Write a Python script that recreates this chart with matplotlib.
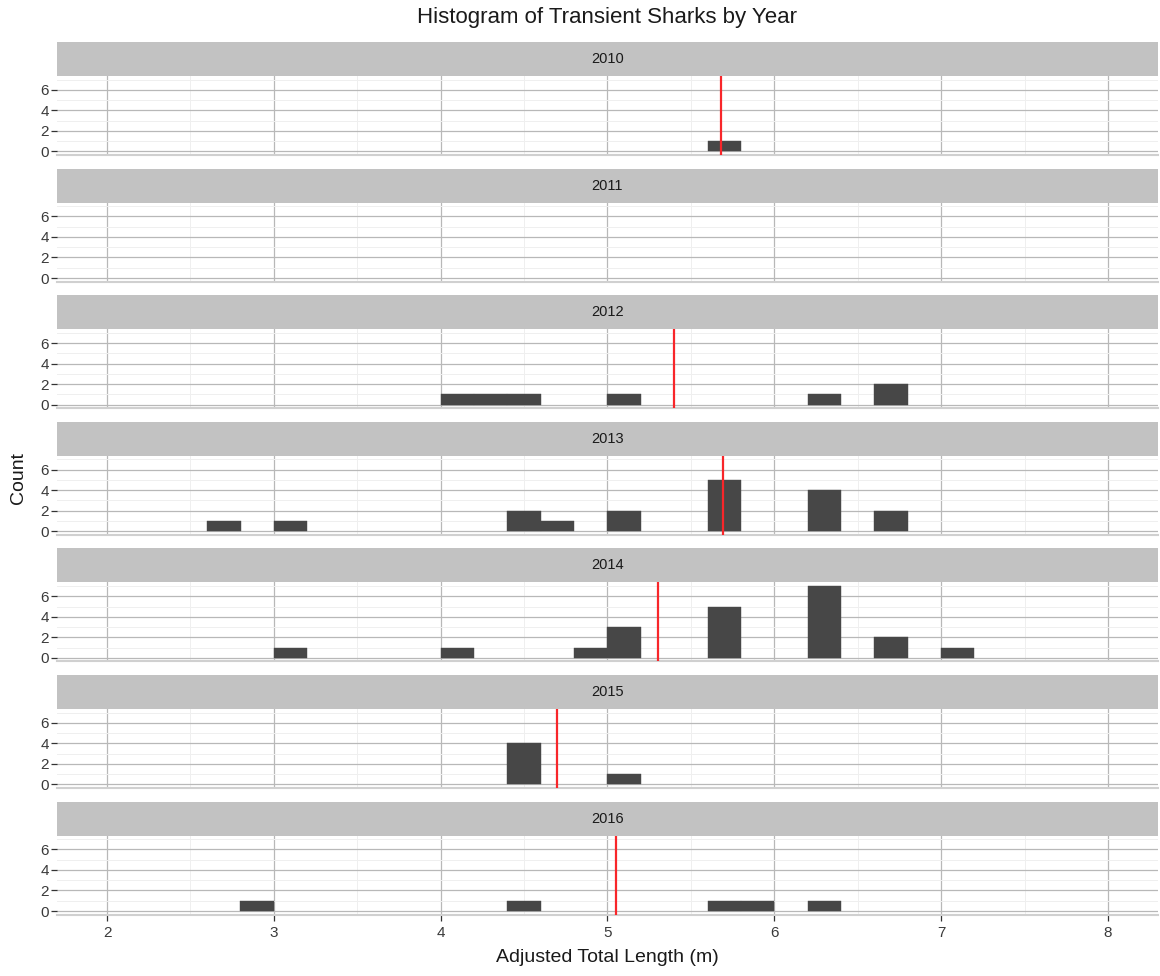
import matplotlib
matplotlib.use("Agg")
import matplotlib.pyplot as plt
from matplotlib.ticker import MultipleLocator

plt.rcParams["font.family"] = ["Liberation Sans", "DejaVu Sans"]

# ── dados: bordas esquerdas das classes (largura 0.2 m) e contagens por ano ──
YEARS = [2010, 2011, 2012, 2013, 2014, 2015, 2016]
BIN_WIDTH = 0.2

LEFT_2010 = [5.6]
COUNT_2010 = [1]
LEFT_2011 = []
COUNT_2011 = []
LEFT_2012 = [4.0, 4.2, 4.4, 5.0, 6.2, 6.6]
COUNT_2012 = [1, 1, 1, 1, 1, 2]
LEFT_2013 = [2.6, 3.0, 4.4, 4.6, 5.0, 5.6, 6.2, 6.6]
COUNT_2013 = [1, 1, 2, 1, 2, 5, 4, 2]
LEFT_2014 = [3.0, 4.0, 4.8, 5.0, 5.6, 6.2, 6.6, 7.0]
COUNT_2014 = [1, 1, 1, 3, 5, 7, 2, 1]
LEFT_2015 = [4.4, 5.0]
COUNT_2015 = [4, 1]
LEFT_2016 = [2.8, 4.4, 5.6, 5.8, 6.2]
COUNT_2016 = [1, 1, 1, 1, 1]

LEFTS = [LEFT_2010, LEFT_2011, LEFT_2012, LEFT_2013, LEFT_2014, LEFT_2015, LEFT_2016]
COUNTS = [COUNT_2010, COUNT_2011, COUNT_2012, COUNT_2013, COUNT_2014, COUNT_2015, COUNT_2016]

# média anual (linha vermelha); 2011 sem dados
MEANS = [5.68, None, 5.40, 5.69, 5.30, 4.70, 5.05]

X_TICKS = [2, 3, 4, 5, 6, 7, 8]
Y_TICKS = [0, 2, 4, 6]

# ── layout em pixels ──
W, H = 1160, 976
fig = plt.figure(figsize=(W / 100, H / 100), dpi=100)

LEFT_PX, RIGHT_PX = 57, 1158
TOP0, STEP = 42, 126.6
STRIP_H, PANEL_H = 34, 79

BAR_COLOR = "#474747"
STRIP_COLOR = "#C2C2C2"
GRID_MAJOR = "#B8B8B8"
GRID_MINOR = "#EFEFEF"
TEXT_COLOR = "#3A3A3A"


def fx(px):
    return px / W


def fy(px):
    return 1 - px / H


for i, year in enumerate(YEARS):
    top = TOP0 + i * STEP
    # faixa cinza com o ano
    sax = fig.add_axes([fx(LEFT_PX), fy(top + STRIP_H), fx(RIGHT_PX - LEFT_PX), STRIP_H / H])
    sax.set_facecolor(STRIP_COLOR)
    sax.set_xticks([])
    sax.set_yticks([])
    for sp in sax.spines.values():
        sp.set_visible(False)
    sax.text(0.5, 0.5, str(year), ha="center", va="center", fontsize=10.5,
             color="#1A1A1A", transform=sax.transAxes)

    ax = fig.add_axes([fx(LEFT_PX), fy(top + STRIP_H + PANEL_H),
                       fx(RIGHT_PX - LEFT_PX), PANEL_H / H])
    ax.set_facecolor("white")
    ax.set_xlim(1.7, 8.3)
    ax.set_ylim(-0.35, 7.35)
    ax.set_xticks(X_TICKS)
    ax.set_yticks(Y_TICKS)
    ax.xaxis.set_minor_locator(MultipleLocator(0.5))
    ax.yaxis.set_minor_locator(MultipleLocator(1))
    ax.grid(True, which="major", color=GRID_MAJOR, lw=0.9, zorder=0)
    ax.grid(True, which="minor", color=GRID_MINOR, lw=0.7, zorder=0)
    ax.set_axisbelow(True)
    for sp in ("top", "right", "left"):
        ax.spines[sp].set_visible(False)
    ax.spines["bottom"].set_color("#D0D0D0")
    ax.spines["bottom"].set_linewidth(1.5)

    ax.bar(LEFTS[i], COUNTS[i], width=BIN_WIDTH, align="edge",
           color=BAR_COLOR, edgecolor=BAR_COLOR, lw=0.3, zorder=2)
    if MEANS[i] is not None:
        ax.axvline(MEANS[i], color="#F8262A", lw=1.6, zorder=3)

    ax.tick_params(axis="y", which="major", length=4, width=0.9, color="#333333",
                   labelsize=11, labelcolor=TEXT_COLOR, pad=2)
    ax.tick_params(axis="both", which="minor", length=0)
    if i == len(YEARS) - 1:
        ax.tick_params(axis="x", which="major", length=4, width=0.9, color="#333333",
                       labelsize=11, labelcolor=TEXT_COLOR, pad=4)
    else:
        ax.tick_params(axis="x", which="major", length=0, labelbottom=False)

fig.text(fx(607), fy(18), "Histogram of Transient Sharks by Year",
         ha="center", va="center", fontsize=16, color="#1A1A1A")
fig.text(fx(607), fy(958), "Adjusted Total Length (m)",
         ha="center", va="center", fontsize=14, color="#1A1A1A")
fig.text(fx(18), fy(478), "Count", ha="center", va="center", rotation=90,
         fontsize=14, color="#1A1A1A")

fig.savefig("out.png", dpi=100)
